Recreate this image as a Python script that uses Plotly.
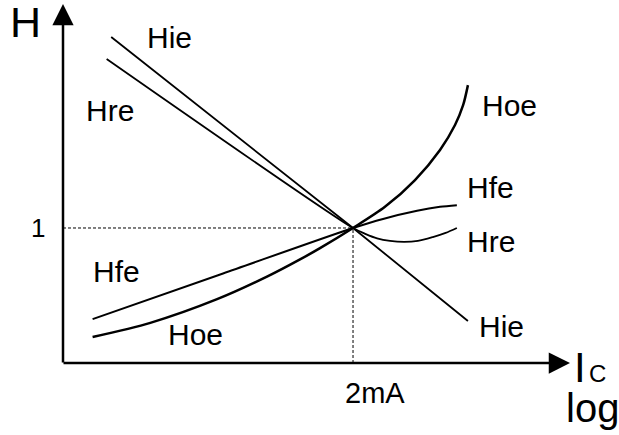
import numpy as np
import plotly.graph_objects as go

# h-parameters of a bipolar transistor, normalised to 1 at Ic = 2 mA (log-log)
ic_ref = 2.0          # mA, normalisation point
h_ref = 1.0

hie_ic = [0.043, 2.0, 12.4]
hie_h = [39.0, 1.0, 0.168]

hre_ic = [0.040, 2.0, 2.45, 2.93, 3.6, 4.5, 5.6, 7.1, 8.7, 10.4]
hre_h = [25.6, 1.0, 0.89, 0.82, 0.78, 0.765, 0.78, 0.84, 0.91, 1.0]

hfe_ic = [0.032, 0.254, 2.0, 3.22, 5.53, 7.96, 10.4]
hfe_h = [0.174, 0.418, 1.0, 1.19, 1.39, 1.50, 1.55]

hoe_ic = [0.032, 0.080, 0.231, 0.51, 0.862, 1.184, 2.0, 3.32, 5.35, 7.96, 10.1, 11.5, 12.4]
hoe_h = [0.1235, 0.162, 0.255, 0.393, 0.547, 0.679, 1.0, 1.50, 2.51, 4.47, 7.22, 10.6, 15.5]

x_tick_vals = [2.0]
x_tick_text = ["2mA"]
y_tick_vals = [1.0]
y_tick_text = ["1"]

x_range = [np.log10(0.02), np.log10(62.7)]
y_range = [np.log10(0.075), np.log10(72.1)]

W, H = 619, 435
ML, MR, MT, MB = 63, 49, 5, 72
PW, PH = W - ML - MR, H - MT - MB
FONT = "Liberation Sans, Arial, sans-serif"


def px(x):
    return (x - ML) / PW


def py(y):
    return (H - MB - y) / PH


fig = go.Figure()

# dotted guides to the normalisation point
fig.add_trace(go.Scatter(x=[10 ** x_range[0], ic_ref], y=[h_ref, h_ref], mode="lines",
                         line=dict(color="black", width=1, dash="3px,2px")))
fig.add_trace(go.Scatter(x=[ic_ref, ic_ref], y=[10 ** y_range[0], h_ref], mode="lines",
                         line=dict(color="black", width=1, dash="3px,2px")))

curves = [
    (hie_ic, hie_h, 1.8, "linear"),
    (hre_ic, hre_h, 1.8, "spline"),
    (hfe_ic, hfe_h, 2.0, "spline"),
    (hoe_ic, hoe_h, 2.5, "spline"),
]
for xs, ys, w, shape in curves:
    fig.add_trace(go.Scatter(x=xs, y=ys, mode="lines",
                             line=dict(color="black", width=w, shape=shape, smoothing=0.8)))

ann = []


def label(text, x, y, size, xanchor="center"):
    ann.append(dict(text=text, x=px(x), y=py(y), xref="paper", yref="paper",
                    showarrow=False, xanchor=xanchor, yanchor="middle",
                    font=dict(family=FONT, size=size, color="black")))


# axis arrows
ann.append(dict(text="", x=0, y=py(4), xref="paper", yref="paper", showarrow=True,
                ax=0, ay=py(4) * PH + 1, axref="pixel", ayref="pixel",
                arrowhead=2, arrowsize=1.7, arrowwidth=2.5, arrowcolor="black", standoff=0))
ann.append(dict(text="", x=px(570), y=0, xref="paper", yref="paper", showarrow=True,
                ax=-(570 - ML) - 1, ay=0, axref="pixel", ayref="pixel",
                arrowhead=2, arrowsize=1.7, arrowwidth=2.5, arrowcolor="black", standoff=0))

label("H", 25.5, 22, 43)
label("I", 580, 367, 42)
label("C", 597, 373.5, 24)
label("log", 592, 408, 40)

label("Hie", 169.5, 37, 30)
label("Hre", 110, 111, 30)
label("Hoe", 509, 106, 30)
label("Hfe", 490, 187, 30)
label("Hre", 491, 241, 30)
label("Hie", 501, 326, 30)
label("Hfe", 116, 271, 30)
label("Hoe", 195, 334, 30)

for v, t in zip(y_tick_vals, y_tick_text):
    ann.append(dict(text=t, x=0, y=(np.log10(v) - y_range[0]) / (y_range[1] - y_range[0]),
                    xref="paper", yref="paper", showarrow=False, xanchor="center",
                    yanchor="middle", xshift=38 - ML,
                    font=dict(family=FONT, size=26, color="black")))
for v, t in zip(x_tick_vals, x_tick_text):
    ann.append(dict(text=t, x=(np.log10(v) - x_range[0]) / (x_range[1] - x_range[0]),
                    y=py(393), xref="paper", yref="paper", showarrow=False,
                    xanchor="left", yanchor="middle", xshift=-10,
                    font=dict(family=FONT, size=29, color="black")))

fig.update_layout(
    width=W, height=H,
    margin=dict(l=ML, r=MR, t=MT, b=MB),
    paper_bgcolor="white", plot_bgcolor="white",
    showlegend=False,
    annotations=ann,
    xaxis=dict(type="log", range=x_range, showgrid=False, zeroline=False,
               showticklabels=False, ticks="", showline=False),
    yaxis=dict(type="log", range=y_range, showgrid=False, zeroline=False,
               showticklabels=False, ticks="", showline=False),
    hovermode=False,
)

fig.write_html("out.html", config=dict(displayModeBar=False))
